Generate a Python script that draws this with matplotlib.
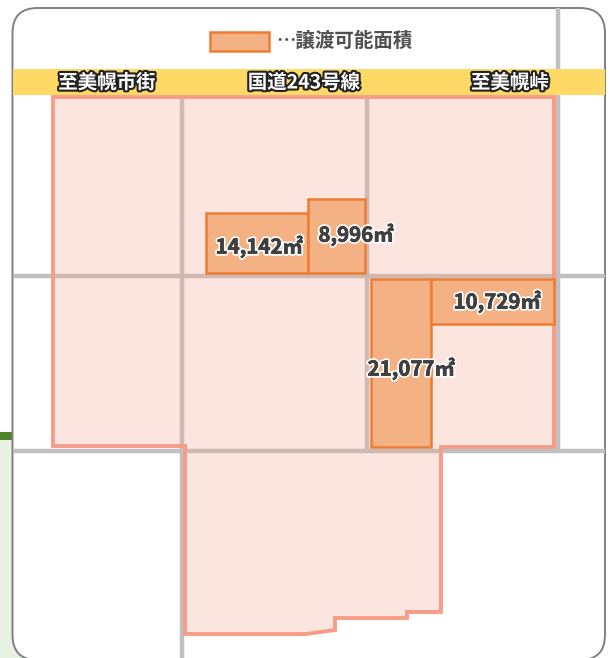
import matplotlib
matplotlib.use('Agg')
import matplotlib.pyplot as plt
import matplotlib.patheffects as pe
from matplotlib.patches import Polygon, Rectangle, FancyBboxPatch

plt.rcParams['font.family'] = ['Noto Sans CJK JP', 'DejaVu Sans']

W, H = 616, 658

# 道路 (x0, y0, x1, y1)
roads = [(182, 95, 182, 658), (367, 95, 367, 450), (558, 8, 558, 450),
         (13, 275.5, 605, 275.5), (13, 450.5, 605, 450.5)]

# 敷地全体の外形
site_x = [53, 554, 554, 441, 441, 407, 407, 335, 335, 306, 185, 185, 53]
site_y = [97, 97, 447, 447, 612, 612, 618, 618, 630, 634, 634, 446, 446]

# 譲渡可能区画 (x, y, w, h)
lots = [(206, 213, 102, 60), (308, 199, 57, 74), (371, 279, 60, 168), (431, 279, 123, 45)]
lot_labels = ['14,142㎡', '8,996㎡', '21,077㎡', '10,729㎡']
lot_label_pos = [(259, 247), (356, 235), (411, 369), (497, 302)]

road_labels = ['至美幌市街', '国道243号線', '至美幌峠']
road_label_x = [107, 304, 510]
legend_text = '…譲渡可能面積'

fig = plt.figure(figsize=(W / 100, H / 100), dpi=100)
ax = fig.add_axes([0, 0, 1, 1])
ax.set_xlim(0, W)
ax.set_ylim(H, 0)
ax.set_axis_off()

# 左下の緑の帯
ax.add_patch(Rectangle((0, 440), 40, 218, fc='#e8f2e2', ec='none', zorder=0))
ax.add_patch(Rectangle((0, 432), 12, 8, fc='#4f8528', ec='none', zorder=0))

# 外枠
r = 25
frame = FancyBboxPatch((12.5 + r, 8 + r), 592.5 - 2 * r, 652 - 2 * r,
                       boxstyle='round,pad=%d,rounding_size=%d' % (r, r),
                       fc='white', ec='#808080', lw=1.4, zorder=1)
ax.add_patch(frame)

for x0, y0, x1, y1 in roads:
    ax.plot([x0, x1], [y0, y1], color='#c0c0c0', lw=3.2, solid_capstyle='butt', zorder=2)

# 上の黄色い道路
ax.add_patch(Rectangle((13, 69), 592, 26, fc='#ffd966', ec='none', zorder=3))

# 敷地
ax.add_patch(Polygon(list(zip(site_x, site_y)), closed=True, fc='#f6a898', alpha=0.3, ec='none', zorder=4))
ax.add_patch(Polygon(list(zip(site_x, site_y)), closed=True, fc='none', ec='#f79c88', lw=2.8,
                     joinstyle='miter', zorder=5))

for x, y, w, h in lots:
    ax.add_patch(Rectangle((x, y), w, h, fc='#f4b183', ec='#ed7d31', lw=1.8, zorder=6))

for s, (x, y) in zip(lot_labels, lot_label_pos):
    ax.text(x, y, s, fontsize=14.7, fontweight='bold', color='#404040', ha='center', va='center', zorder=8,
            path_effects=[pe.withStroke(linewidth=3, foreground='white'),
                          pe.withStroke(linewidth=0.5, foreground='#404040')])

for s, x in zip(road_labels, road_label_x):
    ax.text(x, 83, s, fontsize=14, fontweight='bold', color='white', ha='center', va='center', zorder=8,
            path_effects=[pe.withStroke(linewidth=3, foreground='#222222')])

# 凡例
ax.add_patch(Rectangle((209.5, 31.5), 59, 19, fc='#f4b183', ec='#ed7d31', lw=1.8, zorder=6))
ax.text(276, 41, legend_text, fontsize=14, fontweight='bold', color='#505050', ha='left', va='center', zorder=8)

fig.savefig('out.png', dpi=100)
